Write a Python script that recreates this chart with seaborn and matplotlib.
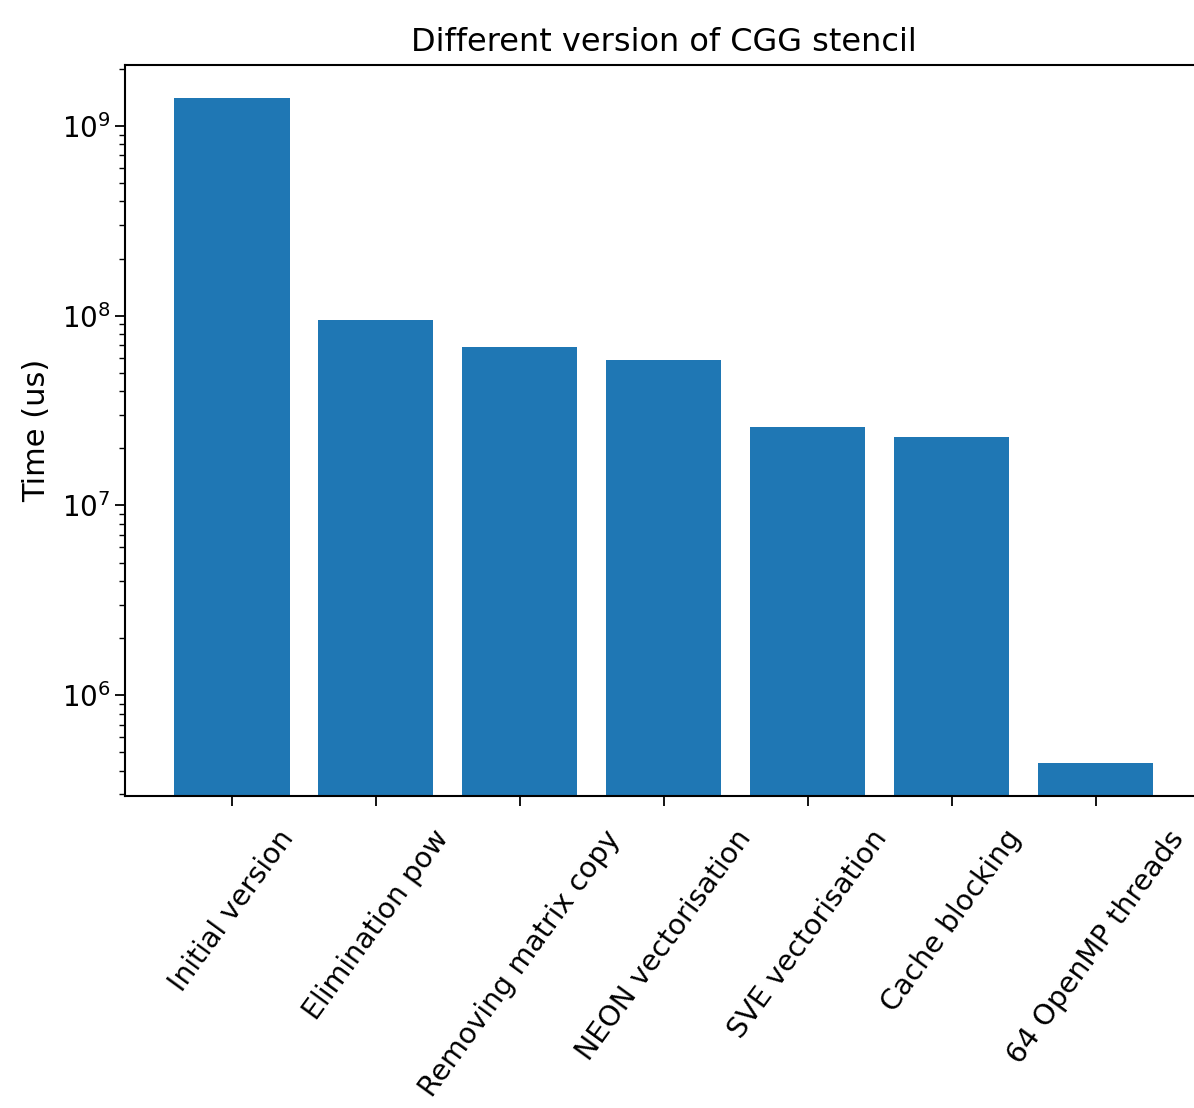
import numpy as np
import pandas as pd
import matplotlib
matplotlib.use("Agg")
import matplotlib.pyplot as plt
import seaborn as sns

# Data (time in microseconds, log scale)
versions = [
    "Initial version",
    "Elimination pow",
    "Removing matrix copy",
    "NEON vectorisation",
    "SVE vectorisation",
    "Cache blocking",
    "64 OpenMP threads",
]
times_us = [1.40e9, 9.5e7, 6.8e7, 5.85e7, 2.6e7, 2.3e7, 4.4e5]

df = pd.DataFrame({"Version": versions, "Time": times_us})

plt.rcParams["font.family"] = ["DejaVu Sans"]

fig = plt.figure(figsize=(11.94, 11.08), dpi=100)
ax = fig.add_axes([0.105, 0.2816, 0.902, 0.6597])

sns.barplot(data=df, x="Version", y="Time", color="#1f77b4", saturation=1,
            width=0.8, ax=ax)
ax.set_yscale("log")
ax.autoscale(axis="y")
ax.margins(x=0.05, y=0.05)

ax.set_title("Different version of CGG stencil", fontsize=23, pad=10)
ax.set_ylabel("Time (us)", fontsize=22, labelpad=8)
ax.set_xlabel("")
ax.tick_params(axis="y", labelsize=20, length=7, width=1.3)
ax.tick_params(axis="x", labelsize=20.5, length=7, width=1.3, pad=14)
ax.tick_params(axis="y", which="minor", length=4, width=1.0)
plt.setp(ax.get_xticklabels(), rotation=54)
for s in ax.spines.values():
    s.set_linewidth(1.5)

fig.savefig("out.png", dpi=100)
